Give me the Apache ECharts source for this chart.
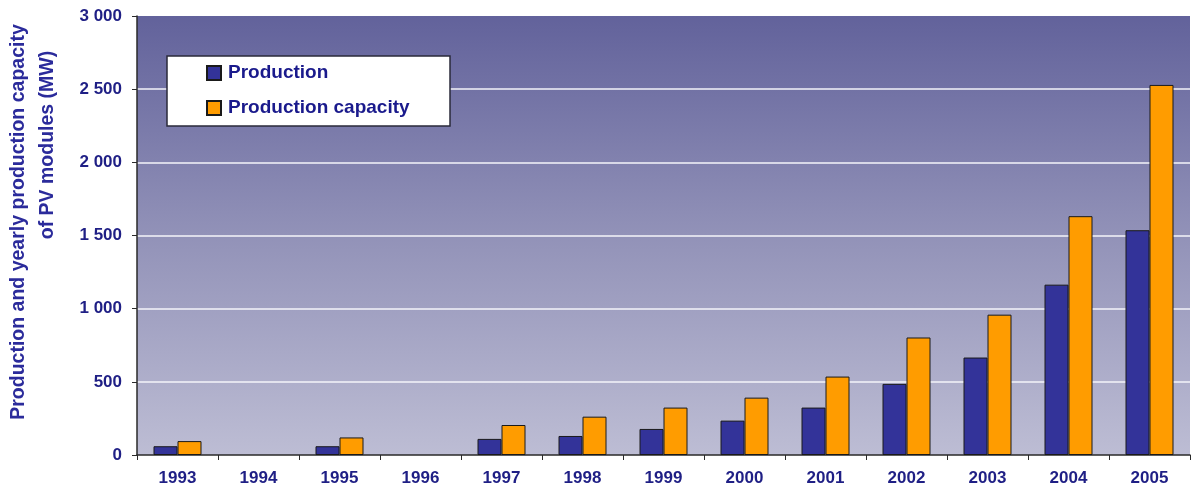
<!DOCTYPE html>
<html>
<head>
<meta charset="utf-8">
<script src="https://cdn.jsdelivr.net/npm/echarts@6/dist/echarts.min.js"></script>
<style>
  html, body { margin: 0; padding: 0; background: #ffffff; }
  #chart { width: 1192px; height: 492px; }
</style>
</head>
<body>
<div id="chart"></div>
<script>
const years = ['1993', '1994', '1995', '1996', '1997', '1998', '1999', '2000', '2001', '2002', '2003', '2004', '2005'];
const production = [60, null, 60, null, 110, 130, 178, 235, 324, 486, 666, 1164, 1536];
const capacity = [95, null, 120, null, 205, 262, 324, 392, 536, 803, 959, 1632, 2529];
const seriesNames = ['Production', 'Production capacity'];
const titleLines = ['Production and yearly production capacity', 'of PV modules (MW)'];

const chart = echarts.init(document.getElementById('chart'));
const labelColor = '#1f1f85';
const fontFamily = 'Arial, "Liberation Sans", sans-serif';

chart.setOption({
  animation: false,
  backgroundColor: '#ffffff',
  grid: {
    left: 137, right: 2, top: 16, bottom: 37,
    show: true,
    borderWidth: 0,
    backgroundColor: new echarts.graphic.LinearGradient(0, 0, 0, 1, [
      { offset: 0, color: '#62629b' },
      { offset: 0.5, color: '#9292b8' },
      { offset: 1, color: '#bdbdd4' }
    ])
  },
  legend: {
    orient: 'vertical',
    left: 206, top: 63.5,
    padding: 0,
    itemWidth: 14, itemHeight: 14, itemGap: 16,
    icon: 'rect',
    data: seriesNames,
    textStyle: { fontSize: 19, fontWeight: 'bold', color: '#1a1a8c', fontFamily: fontFamily, padding: [0, 0, 0, 2] }
  },
  graphic: [
    {
      type: 'rect', z: 3,
      shape: { x: 167, y: 56, width: 283, height: 70 },
      style: { fill: '#ffffff', stroke: '#2a2a3a', lineWidth: 1.5 }
    },
    {
      type: 'text', z: 5,
      x: 19, y: 222, rotation: Math.PI / 2,
      style: { text: titleLines[0], fontSize: 19.5, fontWeight: 'bold', fontFamily: fontFamily, fill: '#2b2b9b', align: 'center', verticalAlign: 'middle' }
    },
    {
      type: 'text', z: 5,
      x: 47.5, y: 145, rotation: Math.PI / 2,
      style: { text: titleLines[1], fontSize: 19.5, fontWeight: 'bold', fontFamily: fontFamily, fill: '#2b2b9b', align: 'center', verticalAlign: 'middle' }
    }
  ],
  xAxis: {
    type: 'category',
    data: years,
    boundaryGap: true,
    axisLine: { show: true, lineStyle: { color: '#2a2a2a', width: 1.5 } },
    axisTick: { show: true, length: 5, lineStyle: { color: '#2a2a2a' } },
    axisLabel: { margin: 15, fontSize: 17, fontWeight: 'bold', color: labelColor, fontFamily: fontFamily },
    splitLine: { show: false }
  },
  yAxis: {
    type: 'value',
    min: 0, max: 3000, interval: 500,
    axisLine: { show: true, lineStyle: { color: '#2a2a2a', width: 1.5 } },
    axisTick: { show: true, length: 5, lineStyle: { color: '#2a2a2a' } },
    axisLabel: {
      margin: 15, fontSize: 17, fontWeight: 'bold', color: labelColor, fontFamily: fontFamily,
      formatter: function (v) { return String(v).replace(/\B(?=(\d{3})+(?!\d))/g, ' '); }
    },
    splitLine: { show: true, showMinLine: false, showMaxLine: false, lineStyle: { color: '#f4f4fa', width: 1.5 } }
  },
  series: [
    {
      name: seriesNames[0], type: 'bar', data: production,
      barWidth: 24, barGap: '0%',
      itemStyle: { color: '#333399', borderColor: '#1a1a1a', borderWidth: 1 }
    },
    {
      name: seriesNames[1], type: 'bar', data: capacity,
      barWidth: 24, barGap: '0%',
      itemStyle: { color: '#ff9c00', borderColor: '#1a1a1a', borderWidth: 1 }
    }
  ]
});
</script>
</body>
</html>
